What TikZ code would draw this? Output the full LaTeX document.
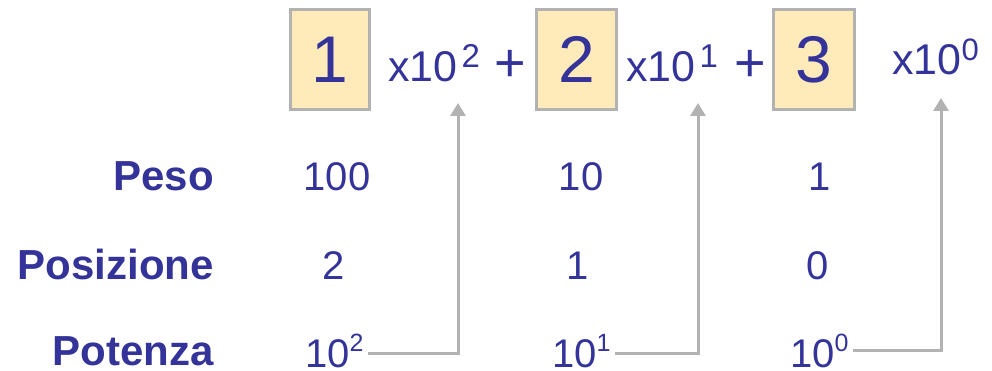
\documentclass[tikz,border=0pt]{standalone}
\usepackage{fontspec}
\setmainfont{Liberation Sans}
\usetikzlibrary{arrows.meta}
\definecolor{inkblue}{RGB}{51,51,153}
\definecolor{boxfill}{RGB}{255,235,185}
\definecolor{linegray}{RGB}{178,178,178}
\newcommand{\toprow}[1]{\kern4pt\raisebox{14pt}{\fontsize{33}{33}\selectfont #1}}
\newcommand{\lowrow}[1]{\raisebox{16pt}{\fontsize{25}{25}\selectfont #1}}
\begin{document}
\begin{tikzpicture}[x=1pt,y=-1pt,
  digitbox/.style={draw=linegray,fill=boxfill,line width=3pt,minimum width=79pt,minimum height=100pt,inner sep=0pt,text=inkblue,font=\fontsize{66}{66}\selectfont},
  eqtext/.style={inner sep=0pt,text=inkblue,font=\fontsize{43}{43}\selectfont},
  plussign/.style={anchor=base,inner sep=0pt,text=inkblue,font=\fontsize{54}{54}\selectfont},
  rowlabel/.style={anchor=base east,inner sep=0pt,text=inkblue,font=\fontsize{42}{42}\selectfont\bfseries},
  cell/.style={anchor=base,inner sep=0pt,text=inkblue,font=\fontsize{40}{40}\selectfont},
  conn/.style={draw=linegray,line width=3pt,-{Triangle[width=15pt,length=13pt]}}]
\path[use as bounding box] (0,0) rectangle (992,371);
% top formula
\node[digitbox] (d2) at (330,59.5) {1};
\node[eqtext,anchor=base west] (e2) at (388,82) {x10\toprow{2}};
\node[plussign] (plus1) at (510,82) {+};
\node[digitbox,minimum width=80pt] (d1) at (576.5,59.5) {2};
\node[eqtext,anchor=base west] (e1) at (626,82) {x10\toprow{1}};
\node[plussign] (plus2) at (750.5,82) {+};
\node[digitbox,minimum width=81pt] (d0) at (814,59.5) {3};
\node[eqtext,anchor=base west] (e0) at (892,75) {x10\raisebox{14pt}{\fontsize{31}{31}\selectfont 0}};
% row labels
\node[rowlabel] (peso) at (214,191) {Peso};
\node[rowlabel] (pos) at (214,279) {Posizione};
\node[rowlabel] (pot) at (214,365) {Potenza};
% values
\node[cell] (w2) at (337,191) {100};
\node[cell] (w1) at (581,191) {10};
\node[cell] (w0) at (820,191) {1};
\node[cell] (q2) at (334,279) {2};
\node[cell] (q1) at (578,279) {1};
\node[cell] (q0) at (818,279) {0};
\node[cell,anchor=base west,inner xsep=4pt,yshift=-1pt] (p2) at (301,366) {10\lowrow{2}};
\node[cell,anchor=base west,inner xsep=4pt,yshift=-1pt] (p1) at (548,366) {10\lowrow{1}};
\node[cell,anchor=base west,inner xsep=4pt,yshift=-1pt] (p0) at (786,366) {10\lowrow{0}};
% arrows
\coordinate (t2) at (458,103);
\coordinate (t1) at (698,103);
\coordinate (t0) at (941,98);
\draw[conn] ([yshift=-3pt]p2.east) -| (t2);
\draw[conn] ([yshift=-3pt]p1.east) -| (t1);
\draw[conn] (p0.east) -| (t0);
\end{tikzpicture}
\end{document}
